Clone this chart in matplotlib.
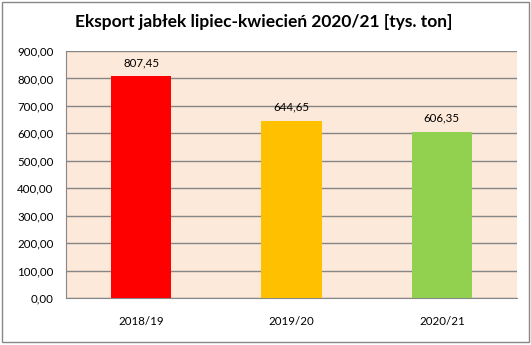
import matplotlib.pyplot as plt
from matplotlib.patches import Rectangle
import numpy as np

seasons = ['2018/19', '2019/20', '2020/21']
export = [807.45, 644.65, 606.35]
colors = ['#FF0000', '#FFC000', '#92D050']
yticks = np.arange(0, 901, 100)

plt.rcParams['font.family'] = ['Lato', 'DejaVu Sans']

fig = plt.figure(figsize=(5.31, 3.45), dpi=100)
ax = fig.add_axes([0.1243, 0.1362, 0.8493, 0.716])

x = np.arange(len(seasons))
ax.bar(x, export, width=0.4, color=colors, zorder=3)
for xi, v in zip(x, export):
    ax.text(xi, v + 30, f'{v:.2f}'.replace('.', ','), ha='center', va='bottom',
            fontsize=8.3, zorder=4)

ax.set_facecolor('#FDE9D9')
ax.set_xlim(-0.5, 2.5)
ax.set_ylim(0, 900)
ax.set_yticks(yticks)
ax.set_yticklabels([f'{t:.2f}'.replace('.', ',') for t in yticks], fontsize=8.3)
ax.set_xticks(x)
ax.set_xticklabels(seasons, fontsize=8.3)
ax.yaxis.grid(True, color='#868686', linewidth=1, zorder=0)
ax.tick_params(axis='y', length=0, pad=9)
ax.tick_params(axis='x', length=0, pad=13)
for s in ['top', 'right']:
    ax.spines[s].set_visible(False)
for s in ['left', 'bottom']:
    ax.spines[s].set_color('#868686')

fig.text(0.497, 0.935, 'Eksport jabłek lipiec-kwiecień 2020/21 [tys. ton]',
         ha='center', va='center', fontsize=12.5, fontweight='bold')

fig.patches.append(Rectangle((0.004, 0.008), 0.992, 0.985, transform=fig.transFigure,
                             fill=False, edgecolor='#888888', linewidth=1))

fig.savefig('out.png', dpi=100)
